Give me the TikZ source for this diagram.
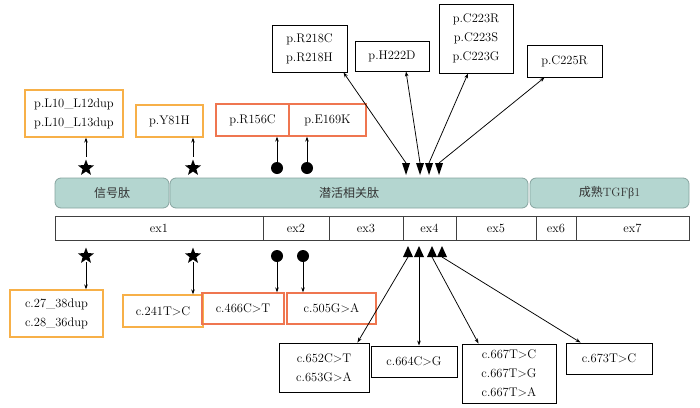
\documentclass[tikz,border=0pt]{standalone}
\usepackage{fontspec}
\newfontfamily\cjk{Noto Sans CJK SC}
\newfontfamily\grk{Liberation Serif}
\usetikzlibrary{shapes.geometric,arrows.meta}
\definecolor{orangeline}{HTML}{F7B048}
\definecolor{redline}{HTML}{EF7650}
\definecolor{domainfill}{HTML}{B4D6D0}
\definecolor{domainline}{HTML}{86A39F}
\definecolor{exonline}{HTML}{404040}

\begin{document}
\begin{tikzpicture}[x = 1pt, y = -1pt, font = \fontsize{12.5}{19}\selectfont,
	mutbox/.style = {draw, line width = 0.95pt, align = center, inner sep = 0pt},
	obox/.style = {mutbox, draw = orangeline, line width = 1.3pt},
	rbox/.style = {mutbox, draw = redline, line width = 1.3pt},
	domainbox/.style = {draw = domainline, fill = domainfill, line width = 0.8pt, rounded corners = 6pt, minimum height = 30pt, inner sep = 0pt, text = black!80, font = \fontsize{12}{14}\selectfont\cjk},
	exonbox/.style = {draw = exonline, line width = 0.9pt, minimum height = 24pt, inner sep = 0pt},
	starmark/.style = {star, star points = 5, star point ratio = 2.4, fill = black, minimum size = 17pt, inner sep = 0pt},
	dotmark/.style = {circle, fill = black, minimum size = 12pt, inner sep = 0pt},
	arr/.style = {-{Stealth[length = 5pt, width = 3.6pt]}, line width = 0.75pt}]
			\useasboundingbox (0, 0) rectangle (700, 407);
			% protein boxes
			\node[obox, minimum width = 98pt, minimum height = 47pt] (pL10) at (74, 113.5) {p.L10\_L12dup\\p.L10\_L13dup};
			\node[obox, minimum width = 67pt, minimum height = 32pt] (pY81H) at (169.5, 121) {p.Y81H};
			\node[rbox, minimum width = 73pt, minimum height = 32pt] (pR156C) at (252.5, 120) {p.R156C};
			\node[rbox, minimum width = 77pt, minimum height = 32pt] (pE169K) at (327.5, 120) {p.E169K};
			\node[mutbox, minimum width = 75pt, minimum height = 47pt] (pR218) at (309.5, 48.5) {p.R218C\\p.R218H};
			\node[mutbox, minimum width = 74pt, minimum height = 30pt] (pH222D) at (392, 56) {p.H222D};
			\node[mutbox, minimum width = 74pt, minimum height = 69pt] (pC223) at (476, 38.5) {p.C223R\\p.C223S\\p.C223G};
			\node[mutbox, minimum width = 75pt, minimum height = 32pt] (pC225R) at (564.5, 61) {p.C225R};
			% domains
			\node[domainbox, minimum width = 114pt] (sig) at (112, 193) {信号肽};
			\node[domainbox, minimum width = 358pt] (lap) at (349, 193) {潜活相关肽};
			\node[domainbox, minimum width = 159pt] (mat) at (609.5, 193) {成熟{\rmfamily TGF{\grk β}1}};
			% exons
			\node[exonbox, minimum width = 208pt] (ex1) at (159, 228) {ex1};
			\node[exonbox, minimum width = 66pt] (ex2) at (296, 228) {ex2};
			\node[exonbox, minimum width = 74pt] (ex3) at (366, 228) {ex3};
			\node[exonbox, minimum width = 53pt] (ex4) at (429.5, 228) {ex4};
			\node[exonbox, minimum width = 80pt] (ex5) at (496, 228) {ex5};
			\node[exonbox, minimum width = 40pt] (ex6) at (556, 228) {ex6};
			\node[exonbox, minimum width = 113pt] (ex7) at (632.5, 228) {ex7};
			% cDNA boxes
			\node[obox, minimum width = 93pt, minimum height = 47pt] (c27) at (56.5, 313.5) {c.27\_38dup\\c.28\_36dup};
			\node[obox, minimum width = 80pt, minimum height = 32pt] (c241) at (163, 311) {c.241T>C};
			\node[rbox, minimum width = 82pt, minimum height = 31pt] (c466) at (243, 308.5) {c.466C>T};
			\node[rbox, minimum width = 89pt, minimum height = 31pt] (c505) at (331.5, 308.5) {c.505G>A};
			\node[mutbox, minimum width = 90pt, minimum height = 49pt] (c652) at (324, 367.5) {c.652C>T\\c.653G>A};
			\node[mutbox, minimum width = 86pt, minimum height = 31pt] (c664) at (414, 361.5) {c.664C>G};
			\node[mutbox, minimum width = 94pt, minimum height = 59pt] (c667) at (509, 373.5) {c.667T>C\\c.667T>G\\c.667T>A};
			\node[mutbox, minimum width = 86pt, minimum height = 31pt] (c673) at (609, 358.5) {c.673T>C};
			% markers above
			\node[starmark] (st1) at (86, 168) {};
			\node[starmark] (st2) at (193, 168) {};
			\node[dotmark] (dt1) at (277, 168) {};
			\node[dotmark] (dt2) at (307, 168) {};
			% markers below
			\node[starmark] (sb1) at (86, 256) {};
			\node[starmark] (sb2) at (193, 256) {};
			\node[dotmark] (db1) at (277, 256) {};
			\node[dotmark] (db2) at (303, 256) {};
			% triangles
			\foreach \n/\x in {1/406, 2/420, 3/429, 4/439} {
				\coordinate (td\n) at (\x, 163);
				\fill (td\n) ++(-4, 0) -- ++(8, 0) -- ++(-4, 12) -- cycle;
			}
			\foreach \n/\x in {1/408, 2/419, 3/432, 4/442} {
				\coordinate (tu\n) at (\x, 257);
				\fill (tu\n) ++(-5, 0) -- ++(10, 0) -- ++(-5, -11) -- cycle;
			}
			% arrows up
			\draw[arr] ([yshift = 2pt]st1.north) -- (st1.north |- pL10.south);
			\draw[arr] ([yshift = 2pt]st2.north) -- (st2.north |- pY81H.south);
			\draw[arr] (dt1.north) -- (dt1.north |- pR156C.south);
			\draw[arr] (dt2.north) -- (dt2.north |- pE169K.south);
			\draw[arr] (td1) -- ([xshift = -4pt]pR218.south east);
			\draw[arr] (td2) -- ([xshift = 14pt]pH222D.south);
			\draw[arr] (td3) -- ([xshift = -8pt]pC223.south);
			\draw[arr] (td4) -- ([xshift = 18pt]pC225R.south west);
			% arrows down
			\draw[arr] ([yshift = -2pt]sb1.south) -- (sb1.south |- c27.north);
			\draw[arr] ([yshift = -2pt]sb2.south) -- (sb2.south |- c241.north);
			\draw[arr] (db1.south) -- (db1.south |- c466.north);
			\draw[arr] (db2.south) -- (db2.south |- c505.north);
			\draw[arr] (tu1) -- ([xshift = -12pt]c652.north east);
			\draw[arr] (tu2) -- (tu2 |- c664.north);
			\draw[arr] (tu3) -- ([xshift = 17pt]c667.north west);
			\draw[arr] (tu4) -- ([xshift = 15pt]c673.north west);
\end{tikzpicture}
\end{document}
